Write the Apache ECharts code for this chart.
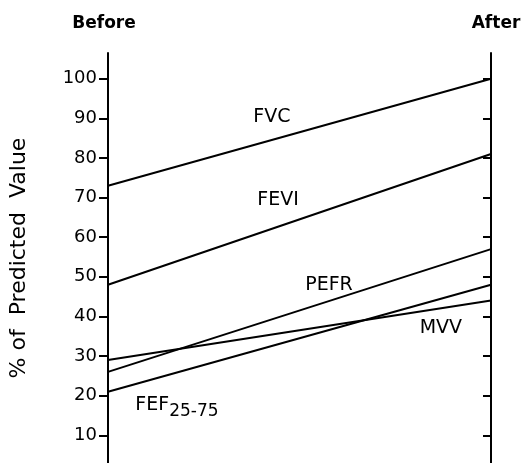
<!DOCTYPE html>
<html>
<head>
<meta charset="utf-8">
<script src="https://cdn.jsdelivr.net/npm/echarts@6/dist/echarts.min.js"></script>
<style>html,body{margin:0;padding:0;background:#fff}#c{width:521px;height:463px}</style>
</head>
<body>
<div id="c"></div>
<script>
// ---- data ----
const timeLabels = ['Before', 'After'];
const seriesNames = ['FVC', 'FEVI', 'PEFR', 'FEF25-75', 'MVV'];
const beforeValues = [73, 48, 26, 21, 29];
const afterValues = [100, 81, 57, 48, 44];
const tickValues = [10, 20, 30, 40, 50, 60, 70, 80, 90, 100];
// label anchor positions in data space: [fraction along x, value]
const labelX = [0.428, 0.444, 0.577, 0.18, 0.869];
const labelY = [90.4, 69.4, 47.9, 16.9, 37.1];

const FONT = 'DejaVu Sans';
const chart = echarts.init(document.getElementById('c'), null, {renderer: 'canvas'});

const series = seriesNames.map((name, i) => ({
  name: name,
  type: 'line',
  xAxisIndex: 0,
  yAxisIndex: 0,
  data: [[0, beforeValues[i]], [1, afterValues[i]]],
  symbol: 'none',
  lineStyle: {color: '#000', width: 2},
  silent: true,
  markPoint: {
    symbol: 'circle',
    symbolSize: 0,
    silent: true,
    data: [{
      coord: [labelX[i], labelY[i]],
      label: {
        show: true,
        position: 'inside',
        formatter: name === 'FEF25-75' ? '{m|FEF}{s|25-75}' : name,
        color: '#000',
        fontFamily: FONT,
        fontSize: 19,
        rich: {
          m: {fontFamily: FONT, fontSize: 19, color: '#000', lineHeight: 24, verticalAlign: 'top'},
          s: {fontFamily: FONT, fontSize: 17, color: '#000', lineHeight: 24, verticalAlign: 'bottom'}
        }
      }
    }]
  }
}));

chart.setOption({
  animation: false,
  backgroundColor: '#fff',
  grid: {left: 108, right: 30, top: 53, bottom: 0, outerBoundsMode: 'none', containLabel: false},
  xAxis: [{
    type: 'value', min: 0, max: 1, position: 'top',
    axisLine: {show: false}, axisTick: {show: false}, splitLine: {show: false},
    axisLabel: {
      show: true, margin: 21,
      customValues: [0, 1],
      formatter: v => v === 0 ? '{l|' + timeLabels[0] + '}' : '{r|' + timeLabels[1] + '}',
      rich: {
        l: {fontFamily: FONT, fontSize: 17, fontWeight: 'bold', color: '#000', padding: [0, 8, 0, 0]},
        r: {fontFamily: FONT, fontSize: 17, fontWeight: 'bold', color: '#000', padding: [0, 0, 0, 10]}
      }
    }
  }],
  yAxis: [{
    type: 'value', min: 3, max: 106.5, position: 'left',
    name: '% of  Predicted  Value', nameLocation: 'middle', nameGap: 78,
    nameTextStyle: {fontFamily: FONT, fontSize: 22, color: '#000'},
    axisLine: {show: true, lineStyle: {color: '#000', width: 2}},
    axisTick: {show: true, inside: false, length: 9, customValues: tickValues, lineStyle: {color: '#000', width: 2}},
    axisLabel: {show: true, margin: 11, customValues: tickValues, fontFamily: FONT, fontSize: 18, color: '#000'},
    splitLine: {show: false}
  }, {
    type: 'value', min: 3, max: 106.5, position: 'right',
    axisLine: {show: true, lineStyle: {color: '#000', width: 2}},
    axisTick: {show: true, inside: true, length: 8, customValues: tickValues, lineStyle: {color: '#000', width: 2}},
    axisLabel: {show: false},
    splitLine: {show: false}
  }],
  series: series
});
</script>
</body>
</html>
